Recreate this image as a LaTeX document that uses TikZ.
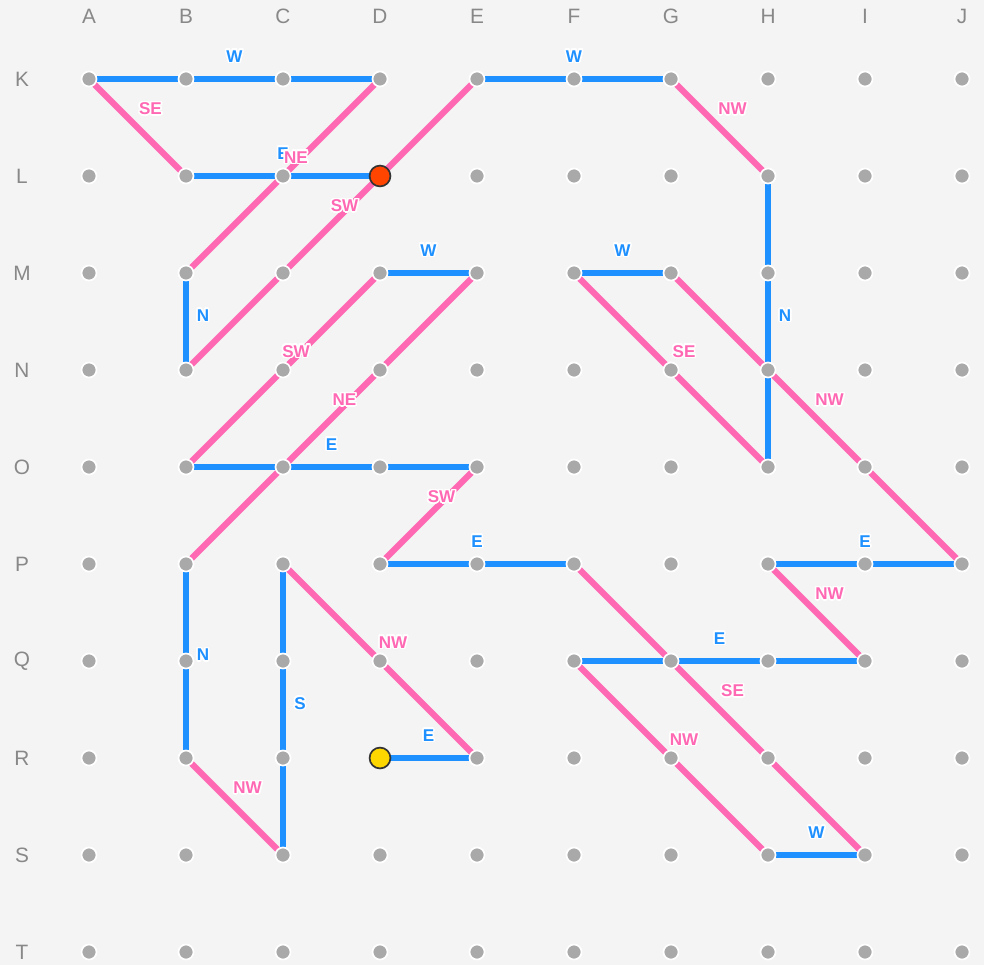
\documentclass[tikz,border=0pt]{standalone}
\usepackage{fontspec}
\setmainfont{Liberation Sans}
\usepackage[copies]{contour}
\contourlength{0.45pt}
\usetikzlibrary{backgrounds}
\definecolor{fond}{HTML}{F4F4F4}
\definecolor{bleu}{HTML}{1E90FF}
\definecolor{rose}{HTML}{FF69B4}
\definecolor{gris}{HTML}{A9A9A9}
\definecolor{grislettre}{HTML}{888888}
\definecolor{rouge}{HTML}{FF4500}
\definecolor{jaune}{HTML}{FFD700}

\begin{document}
\begin{tikzpicture}[
  grille/.style={circle,fill=gris,draw=white,line width=0.5pt,minimum size=0.155cm,inner sep=0pt},
  borne/.style={circle,draw=black!80,line width=0.5pt,minimum size=0.215cm,inner sep=0pt},
  entete/.style={text=grislettre,font=\fontsize{6.1}{7}\selectfont,inner sep=0pt},
  seg/.style={line width=1.8pt},
  lbl/.style={midway,inner sep=0pt,font=\bfseries\fontsize{5}{6}\selectfont}]
  \useasboundingbox (-0.9175,-9.134) rectangle (9.2268,0.8144);
  % grille de points
  \foreach \c [count=\i from 0] in {A,...,J} {
    \node[entete] (t\c) at (\i,0.649) {\c};
    \foreach \r [count=\j from 0] in {K,...,T}
      \node[grille] (\c\r) at (\i,-\j) {};
  }
  \foreach \r [count=\j from 0] in {K,...,T}
    \node[entete] (t\r) at (-0.691,-\j) {\r};
  \node[borne,fill=rouge] (fin) at (DL) {};
  \node[borne,fill=jaune] (debut) at (DR) {};
  \begin{scope}[on background layer]
    \fill[fond] (-0.9175,-9.134) rectangle (9.2268,0.8144);
    % segments horizontaux
    \foreach \a/\b/\t [count=\k] in {AK/DK/W, BL/DL/E, EK/GK/W, DM/EM/W, FM/GM/W, BO/EO/E,
        DP/FP/E, HP/JP/E, FQ/IQ/E, DR/ER/E, HS/IS/W}
      \draw[seg,bleu] (\a.center) -- node[lbl,text=bleu,shift={(0,0.227)}] (h\k) {\contour{white}{\t}} (\b.center);
    % segments verticaux
    \foreach \a/\b/\t [count=\k] in {HL/HO/N, BM/BN/N, BP/BR/N, CP/CS/S}
      \draw[seg,bleu] (\a.center) -- node[lbl,text=bleu,shift={(0.175,0.055)}] (v\k) {\contour{white}{\t}} (\b.center);
    % diagonales
    \foreach \a/\b/\t [count=\k] in {AK/BL/SE, DK/BM/NE, EK/BN/SW, GK/HL/NW, DM/BO/SW, EM/BP/NE,
        FM/HO/SE, GM/JP/NW, EO/DP/SW, CP/ER/NW, FP/IS/SE, HP/IQ/NW, FQ/HS/NW, BR/CS/NW}
      \draw[seg,rose] (\a.center) -- node[lbl,text=rose,shift={(0.134,0.186)}] (d\k) {\contour{white}{\t}} (\b.center);
  \end{scope}
\end{tikzpicture}
\end{document}
